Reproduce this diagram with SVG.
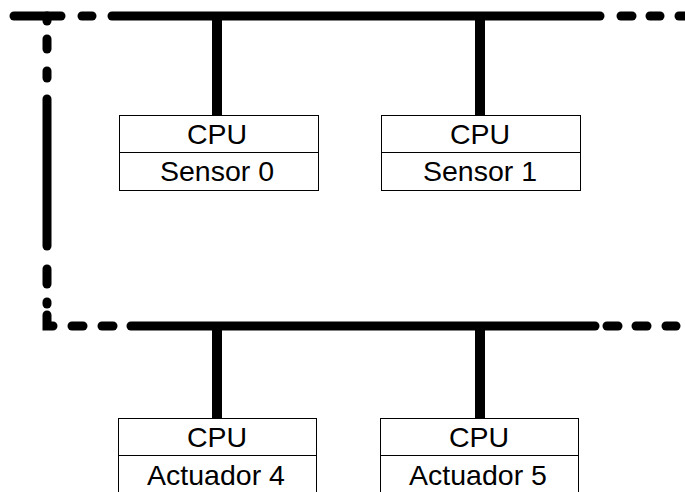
<svg xmlns="http://www.w3.org/2000/svg" width="685" height="492" viewBox="0 0 685 492">
  <style>
    .bus { stroke: #000; stroke-width: 9; stroke-linecap: round; fill: none; }
    .stem { stroke: #000; stroke-width: 10; fill: none; }
    .box { fill: #fff; stroke: #000; stroke-width: 1; }
    .lbl { font-family: "Liberation Sans", Arial, sans-serif; font-size: 28.5px; fill: #000; text-anchor: middle; }
  </style>
  <rect width="685" height="492" fill="#fff"/>

  <g id="connectors">
    <!-- top bus: dashed ends, solid middle -->
    <line class="bus" x1="14" y1="16" x2="61" y2="16"/>
    <line class="bus" x1="82" y1="16" x2="92" y2="16"/>
    <line class="bus" x1="112" y1="16" x2="600" y2="16"/>
    <line class="bus" x1="621" y1="16" x2="632" y2="16"/>
    <line class="bus" x1="650" y1="16" x2="660" y2="16"/>
    <line class="bus" x1="679" y1="16" x2="695" y2="16"/>
    <!-- left vertical link -->
    <line class="bus" x1="47" y1="16" x2="47" y2="21"/>
    <line class="bus" x1="47" y1="39" x2="47" y2="49"/>
    <line class="bus" x1="47" y1="71" x2="47" y2="78"/>
    <line class="bus" x1="47" y1="99" x2="47" y2="246"/>
    <line class="bus" x1="47" y1="269" x2="47" y2="284"/>
    <line class="bus" x1="47" y1="302" x2="47" y2="304"/>
    <path class="bus" d="M47,315 L47,326 L53,326"/>
    <!-- bottom bus -->
    <line class="bus" x1="72" y1="326" x2="83" y2="326"/>
    <line class="bus" x1="102" y1="326" x2="113" y2="326"/>
    <line class="bus" x1="131" y1="326" x2="595" y2="326"/>
    <line class="bus" x1="607" y1="326" x2="618" y2="326"/>
    <line class="bus" x1="636" y1="326" x2="647" y2="326"/>
    <line class="bus" x1="666" y1="326" x2="676" y2="326"/>
    <!-- stems to nodes -->
    <line class="stem" x1="217" y1="16" x2="217" y2="115"/>
    <line class="stem" x1="480" y1="16" x2="480" y2="115"/>
    <line class="stem" x1="217" y1="326" x2="217" y2="418"/>
    <line class="stem" x1="480" y1="326" x2="480" y2="418"/>
  </g>

  <g id="sensor0">
    <rect class="box" x="119.5" y="115.5" width="199" height="37"/>
    <rect class="box" x="119.5" y="152.5" width="199" height="38"/>
    <text class="lbl" x="217" y="144">CPU</text>
    <text class="lbl" x="217" y="181">Sensor 0</text>
  </g>

  <g id="sensor1">
    <rect class="box" x="381.5" y="115.5" width="199" height="37"/>
    <rect class="box" x="381.5" y="152.5" width="199" height="38"/>
    <text class="lbl" x="480" y="144">CPU</text>
    <text class="lbl" x="480" y="181">Sensor 1</text>
  </g>

  <g id="actuador4">
    <rect class="box" x="118.5" y="418.5" width="198" height="37"/>
    <rect class="box" x="118.5" y="455.5" width="198" height="45"/>
    <text class="lbl" x="217" y="447">CPU</text>
    <text class="lbl" x="216" y="485">Actuador 4</text>
  </g>

  <g id="actuador5">
    <rect class="box" x="380.5" y="418.5" width="198" height="37"/>
    <rect class="box" x="380.5" y="455.5" width="198" height="45"/>
    <text class="lbl" x="479" y="447">CPU</text>
    <text class="lbl" x="478" y="485">Actuador 5</text>
  </g>
</svg>
